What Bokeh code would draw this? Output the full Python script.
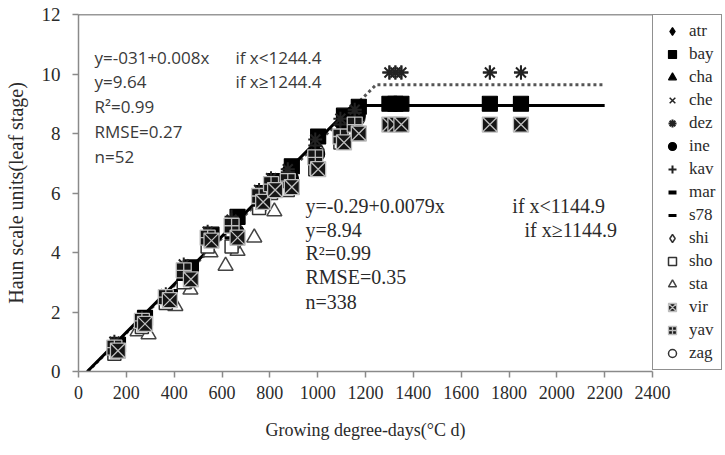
from bokeh.plotting import figure
from bokeh.models import Range1d, FixedTicker, Label, Legend, LegendItem, Span
from bokeh.embed import file_html
from bokeh.resources import INLINE

# ---------------- data ----------------
gdd_a = [150, 265, 365, 440, 540, 640, 755, 805, 875, 990, 1095, 1155]
gdd_b = [165, 278, 382, 470, 556, 665, 772, 822, 892, 1002, 1110, 1172]
late_gdd = [1300, 1325, 1350, 1720, 1850]

atr = [0.8, 1.7, 2.5, 3.3, 4.5, 4.9, 5.8, 6.2, 6.8, 7.6, 8.3, 8.7]
bay = [0.9, 1.8, 2.5, 3.5, 4.6, 5.2, 6.0, 6.4, 6.9, 7.9, 8.6, 8.9]
cha = [0.7, 1.6, 2.4, 3.2, 4.4, 4.8, 5.7, 6.1, 6.6, 7.4, 8.1, 8.5]
che = [0.9, 1.7, 2.5, 3.4, 4.6, 5.0, 5.9, 6.3, 6.7, 7.7, 8.4, 8.8]
dez = [1.0, 1.8, 2.6, 3.6, 4.7, 5.1, 6.1, 6.5, 6.8, 7.8, 8.5, 8.8]
ine = [0.8, 1.6, 2.4, 3.3, 4.5, 4.7, 5.7, 6.2, 6.5, 7.3, 8.2, 8.6]
kav = [0.9, 1.7, 2.5, 3.5, 4.6, 5.2, 6.0, 6.4, 6.7, 7.6, 8.3, 8.7]
mar = [0.7, 1.6, 2.3, 3.1, 4.4, 4.6, 5.6, 6.0, 6.4, 7.2, 8.0, 8.5]
s78 = [0.8, 1.5, 2.4, 3.2, 4.3, 4.5, 5.6, 6.1, 6.3, 7.0, 7.9, 8.4]
shi = [0.6, 1.5, 2.3, 3.0, 4.3, 4.3, 5.5, 6.0, 6.2, 6.9, 7.8, 8.2]
sho = [0.6, 1.5, 2.3, 3.0, 4.2, 4.2, 5.5, 6.0, 6.1, 6.8, 7.7, 8.1]
sta_gdd = [160, 247, 293, 405, 468, 552, 615, 665, 735, 819]
sta = [0.7, 1.35, 1.25, 2.2, 2.75, 4.0, 3.55, 4.05, 4.5, 5.38]
vir = [0.7, 1.6, 2.4, 3.1, 4.4, 4.5, 5.7, 6.1, 6.2, 6.8, 7.7, 8.0]
yav = [0.8, 1.7, 2.5, 3.4, 4.5, 4.9, 5.9, 6.3, 6.4, 7.2, 7.9, 8.3]
zag = [0.7, 1.6, 2.4, 3.3, 4.4, 4.6, 5.8, 6.2, 6.5, 7.4, 8.1, 8.5]

bay_late = [9.0, 9.0, 9.0, 9.0, 9.0]
vir_late = [8.3, 8.3, 8.3, 8.3, 8.3]
dez_late = [10.05, 10.05, 10.05, 10.05, 10.05]
kav_late = [10.05, 10.05, 10.05, 10.05, 10.05]

# fitted models: y = a + b*x if x < brk else plateau
fit_all = dict(a=-0.29, b=0.0079, brk=1144.9, plateau=8.94)
fit_sub = dict(a=-0.31, b=0.008, brk=1244.4, plateau=9.64)
x_end = 2200

x_ticks = list(range(0, 2401, 200))
y_ticks = list(range(0, 13, 2))

# ---------------- figure ----------------
p = figure(frame_width=574, frame_height=357, output_backend="svg",
           toolbar_location=None, x_range=Range1d(0, 2400), y_range=Range1d(0, 12),
           min_border_left=78, min_border_top=14, min_border_bottom=74,
           min_border_right=0, background_fill_color="white")
p.outline_line_color = None
p.xgrid.grid_line_color = None
p.ygrid.grid_line_color = None

for ax in (p.xaxis[0], p.yaxis[0]):
    ax.axis_line_color = "#8a8a8a"
    ax.axis_line_width = 1.5
    ax.major_tick_line_color = "#8a8a8a"
    ax.major_tick_line_width = 1.5
    ax.major_tick_in = 0
    ax.major_tick_out = 6
    ax.minor_tick_line_color = None
    ax.major_label_text_font = "Liberation Serif"
    ax.major_label_text_color = "#2a2a2a"
    ax.axis_label_text_font = "Liberation Serif"
    ax.axis_label_text_font_style = "normal"
    ax.axis_label_text_color = "#2a2a2a"

p.xaxis.ticker = FixedTicker(ticks=x_ticks)
p.yaxis.ticker = FixedTicker(ticks=y_ticks)
p.xaxis.major_label_text_font_size = "18px"
p.yaxis.major_label_text_font_size = "19px"
p.xaxis.major_label_standoff = 8
p.yaxis.major_label_standoff = 12
p.xaxis.axis_label = "Growing degree-days(°C d)"
p.yaxis.axis_label = "Haun scale units(leaf stage)"
p.xaxis.axis_label_text_font_size = "18px"
p.yaxis.axis_label_text_font_size = "20px"
p.xaxis.axis_label_standoff = 18
p.yaxis.axis_label_standoff = 12

p.add_layout(Span(location=12, dimension="width", line_color="#333333", line_width=1.5))

# fitted lines
def seg(f, xe):
    x0 = -f["a"] / f["b"]
    return [x0, f["brk"], xe], [0, f["plateau"], f["plateau"]]

sx, sy = seg(fit_sub, x_end)
p.line(sx, sy, line_color="#555555", line_width=3, line_dash="3 3")
fx, fy = seg(fit_all, x_end)
p.line(fx, fy, line_color="black", line_width=3)

specs = {}
def add(name, xs, ys, marker, size, fill, line, lw=1.2, extra=None):
    specs[name] = (xs, ys, marker, size, fill, line, lw, extra)

add("atr", gdd_a, atr, "diamond", 16, "black", "black")
add("bay", gdd_b, bay, "square", 15, "black", "black", extra=(late_gdd, bay_late))
add("cha", gdd_a, cha, "triangle", 14, "black", "black")
add("che", gdd_b, che, "x", 13, None, "#222222", 1.5)
add("dez", gdd_a, dez, "asterisk", 14, None, "#222222", 2, extra=(late_gdd, dez_late))
add("ine", gdd_b, ine, "circle", 13, "black", "black")
add("kav", gdd_a, kav, "cross", 14, None, "#222222", 2, extra=(late_gdd, kav_late))
add("mar", gdd_b, mar, "dash", 9, None, "black", 4)
add("s78", gdd_a, s78, "dash", 14, None, "black", 3)
add("shi", gdd_b, shi, "diamond", 13, "white", "#333333", 1.5)
add("sho", gdd_a, sho, "square", 13, "white", "#333333", 1.5)
add("sta", sta_gdd, sta, "triangle", 15, "white", "#444444", 1.5)
add("vir", gdd_b, vir, "square_x", 15, "#151515", "#bdbdbd", 1.3, extra=(late_gdd, vir_late))
add("yav", gdd_a, yav, "square_cross", 15, "#151515", "#bdbdbd", 1.3)
add("zag", gdd_b, zag, "circle", 12, "white", "#333333", 1.5)

legend_order = ["atr", "bay", "cha", "che", "dez", "ine", "kav", "mar", "s78",
                "shi", "sho", "sta", "vir", "yav", "zag"]
draw_order = ["sta", "zag", "shi", "sho", "cha", "ine", "mar", "s78", "atr", "che",
              "bay", "kav", "dez", "yav", "vir"]
first = {}
for name in draw_order:
    xs, ys, marker, size, fill, line, lw, extra = specs[name]
    r = p.scatter(xs, ys, marker=marker, size=size, fill_color=fill,
                  line_color=line, line_width=lw)
    first[name] = r
    if extra is not None:
        ex, ey = extra
        p.scatter(ex, ey, marker=marker, size=size, fill_color=fill,
                  line_color=line, line_width=lw)

items = [LegendItem(label=n, renderers=[first[n]]) for n in legend_order]
legend = Legend(items=items, location="top_left", margin=0, padding=6,
                spacing=3, glyph_width=26, glyph_height=20, label_height=20,
                label_standoff=4, label_text_font="Liberation Serif",
                label_text_font_size="17px", label_text_color="#2a2a2a",
                border_line_color="#222222", border_line_width=1.5,
                background_fill_alpha=1.0)
p.add_layout(legend, "right")

# annotations
ann_font_a = "Open Sans"
top_lines = ["y=-031+0.008x", "y=9.64", "R²=0.99", "RMSE=0.27", "n=52"]
top_y = [10.55, 9.75, 8.91, 8.07, 7.23]
for t, yy in zip(top_lines, top_y):
    p.add_layout(Label(x=67, y=yy, text=t, text_font=ann_font_a, text_font_size="17px",
                       text_color="#3a3a3a", text_baseline="middle"))
for t, yy in zip(["if x<1244.4", "if x≥1244.4"], top_y[:2]):
    p.add_layout(Label(x=656, y=yy, text=t, text_font=ann_font_a, text_font_size="17px",
                       text_color="#3a3a3a", text_baseline="middle"))

mid_lines = ["y=-0.29+0.0079x", "y=8.94", "R²=0.99", "RMSE=0.35", "n=338"]
mid_y = [5.55, 4.77, 4.0, 3.19, 2.35]
for t, yy in zip(mid_lines, mid_y):
    p.add_layout(Label(x=949, y=yy, text=t, text_font="Liberation Serif",
                       text_font_size="20px", text_color="#2a2a2a", text_baseline="middle"))
p.add_layout(Label(x=1814, y=mid_y[0], text="if x<1144.9", text_font="Liberation Serif",
                   text_font_size="20px", text_color="#2a2a2a", text_baseline="middle"))
p.add_layout(Label(x=1865, y=mid_y[1], text="if x≥1144.9", text_font="Liberation Serif",
                   text_font_size="20px", text_color="#2a2a2a", text_baseline="middle"))

open("out.html", "w").write(file_html(p, INLINE))
